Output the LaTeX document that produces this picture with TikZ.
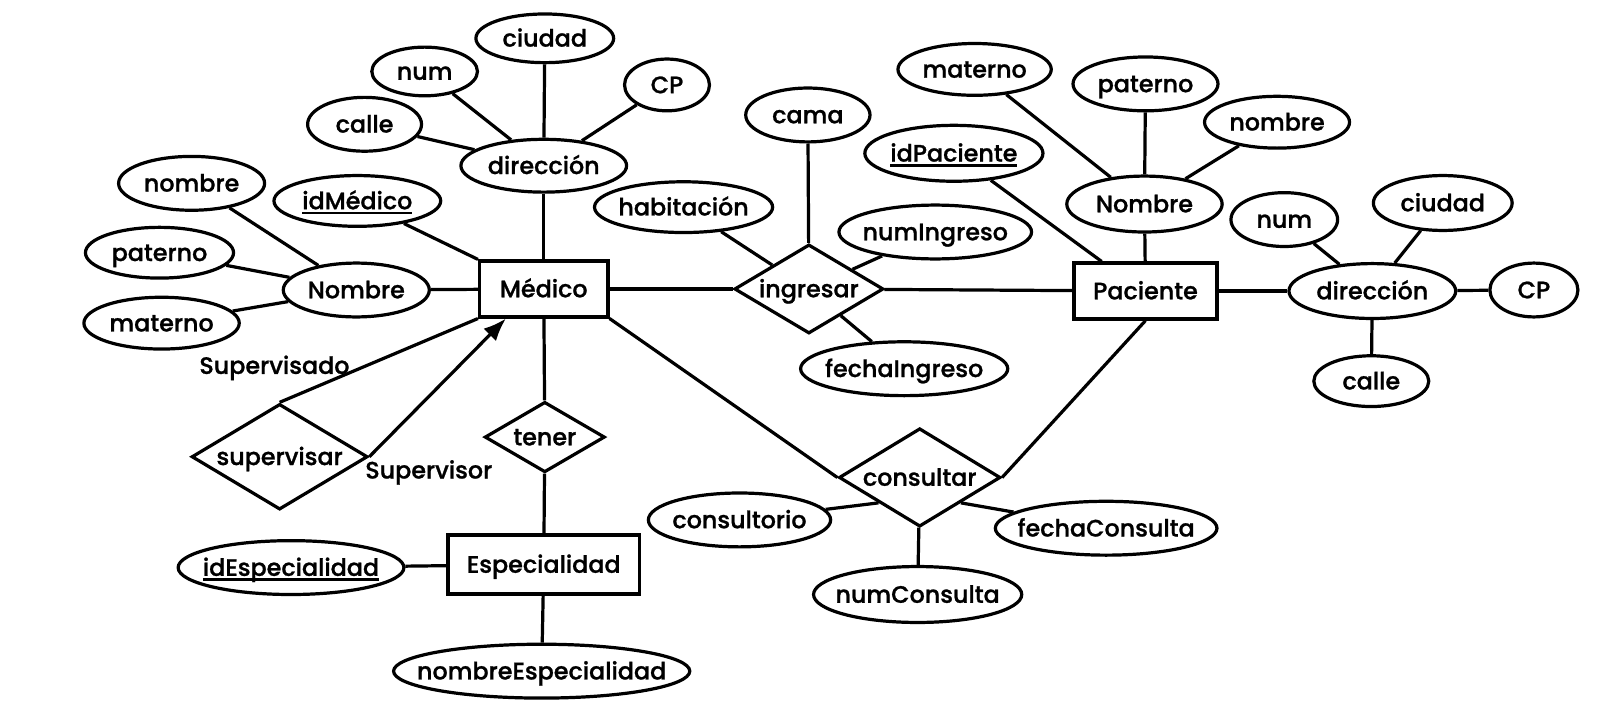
\documentclass[tikz,border=0pt]{standalone}
\usepackage{fontspec}
\setmainfont{Poppins Medium}[FakeBold=1]
\usetikzlibrary{shapes.geometric,arrows.meta}
\newcommand\ctr[1]{\makebox[0pt]{#1}}
\newcommand\uln[1]{\setbox0=\hbox{#1}\rlap{\rule[-5pt]{\wd0}{2.6pt}}\box0}
\tikzset{
  base/.style={draw, line width=3.1pt, inner sep=0pt, text height=16pt, text depth=0pt,
    font=\fontsize{23pt}{27pt}\selectfont},
  ent/.style 2 args={base, rectangle, minimum width=#1, minimum height=#2},
  attr/.style 2 args={base, ellipse, minimum width=#1, minimum height=#2},
  rel/.style 2 args={base, diamond, minimum width=#1, minimum height=#2},
  conn/.style={line width=3.1pt},
  lbl/.style={inner sep=0pt, text height=16pt, text depth=0pt, font=\fontsize{23pt}{27pt}\selectfont}
}
\begin{document}
\begin{tikzpicture}[x=1pt,y=-1pt]
\useasboundingbox[fill=white] (0,0) rectangle (1568,688);
% entities
\node[ent={124}{54}] (Medico) at (525,279) {Médico};
\node[ent={138}{54}] (Paciente) at (1106,281) {Paciente};
\node[ent={185}{57}] (Especialidad) at (525,545) {Especialidad};
% relations
\node[rel={170}{102}] (supervisar) at (270,441) {\ctr{supervisar}};
\node[rel={116}{68}] (tener) at (526,422) {\ctr{tener}};
\node[rel={144}{86}] (ingresar) at (781,279) {\ctr{ingresar}};
\node[rel={156}{95}] (consultar) at (888,461) {\ctr{consultar}};
% Medico attributes
\node[attr={133}{47}] (ciudadA) at (526,37) {\ctr{ciudad}};
\node[attr={102}{47}] (numA) at (410,69) {\ctr{num}};
\node[attr={82}{50}] (cpA) at (644,82) {\ctr{CP}};
\node[attr={110}{52}] (calleA) at (352,120) {\ctr{calle}};
\node[attr={160}{51}] (dirA) at (525,160) {\ctr{dirección}};
\node[attr={141}{52}] (nombreA) at (185,177) {\ctr{nombre}};
\node[attr={161}{49}] (idMedico) at (345,194) {\ctr{\uln{idMédico}}};
\node[attr={143}{49}] (paternoA) at (154,244) {\ctr{paterno}};
\node[attr={141}{52}] (NombreA) at (344,280) {\ctr{Nombre}};
\node[attr={150}{50}] (maternoA) at (156,312) {\ctr{materno}};
% Especialidad attributes
\node[attr={218}{52}] (idEsp) at (281,548) {\ctr{\uln{idEspecialidad}}};
\node[attr={286}{52}] (nombreEsp) at (523,648) {\ctr{nombreEspecialidad}};
% ingresar attributes
\node[attr={120}{52}] (cama) at (780,111) {\ctr{cama}};
\node[attr={172}{49}] (habitacion) at (660,200) {\ctr{habitación}};
\node[attr={186}{52}] (numIngreso) at (903,224) {\ctr{numIngreso}};
\node[attr={200}{52}] (fechaIngreso) at (873,356) {\ctr{fechaIngreso}};
% Paciente attributes
\node[attr={172}{54}] (idPaciente) at (921,148) {\ctr{\uln{idPaciente}}};
\node[attr={148}{50}] (maternoB) at (941,67) {\ctr{materno}};
\node[attr={140}{52}] (paternoB) at (1106,81) {\ctr{paterno}};
\node[attr={140}{50}] (nombreB) at (1233,118) {\ctr{nombre}};
\node[attr={150}{54}] (NombreB) at (1105,197) {\ctr{Nombre}};
\node[attr={103}{52}] (numB) at (1240,212) {\ctr{num}};
\node[attr={134}{53}] (ciudadB) at (1393,196) {\ctr{ciudad}};
\node[attr={161}{53}] (dirB) at (1325,281) {\ctr{dirección}};
\node[attr={85}{52}] (cpB) at (1481,280) {\ctr{CP}};
\node[attr={111}{49}] (calleB) at (1324,368) {\ctr{calle}};
% consultar attributes
\node[attr={176}{52}] (consultorio) at (714,502) {\ctr{consultorio}};
\node[attr={214}{52}] (fechaConsulta) at (1068,510) {\ctr{fechaConsulta}};
\node[attr={201}{54}] (numConsulta) at (886,574) {\ctr{numConsulta}};
% role labels
\node[lbl] (lsupdo) at (265,353) {Supervisado};
\node[lbl] (lsupor) at (414,454) {Supervisor};
% connectors
\draw[conn] (numA) -- (dirA);
\draw[conn] (ciudadA) -- (dirA);
\draw[conn] (cpA) -- (dirA);
\draw[conn] (calleA) -- (dirA);
\draw[conn] (dirA) -- (Medico);
\draw[conn] (idMedico) -- (Medico.north west);
\draw[conn] (nombreA) -- (NombreA);
\draw[conn] (paternoA) -- (NombreA);
\draw[conn] (maternoA) -- (NombreA);
\draw[conn] (NombreA) -- (Medico);
\draw[conn] (supervisar.north) -- (Medico.south west);
\draw[conn,-{Latex[length=22pt,width=17pt]}] (supervisar.east) -- (Medico.218);
\draw[conn] (Medico) -- (tener);
\draw[conn] (tener) -- (Especialidad);
\draw[conn] (idEsp) -- (Especialidad);
\draw[conn] (Especialidad) -- (nombreEsp);
\draw[conn] (Medico) -- (ingresar);
\draw[conn] (ingresar) -- (Paciente);
\draw[conn] (cama) -- (ingresar);
\draw[conn] (habitacion) -- (ingresar);
\draw[conn] (numIngreso) -- (ingresar);
\draw[conn] (fechaIngreso) -- (ingresar);
\draw[conn] (maternoB) -- (NombreB);
\draw[conn] (paternoB) -- (NombreB);
\draw[conn] (nombreB) -- (NombreB);
\draw[conn] (NombreB) -- (Paciente);
\draw[conn] (idPaciente) -- (Paciente.146);
\draw[conn] (Paciente) -- (dirB);
\draw[conn] (numB) -- (dirB);
\draw[conn] (ciudadB) -- (dirB);
\draw[conn] (dirB) -- (cpB);
\draw[conn] (dirB) -- (calleB);
\draw[conn] (Medico.south east) -- (consultar.west);
\draw[conn] (Paciente.south) -- (consultar.east);
\draw[conn] (consultorio) -- (consultar.south west);
\draw[conn] (consultar.south east) -- (fechaConsulta);
\draw[conn] (consultar) -- (numConsulta);
\end{tikzpicture}
\end{document}
